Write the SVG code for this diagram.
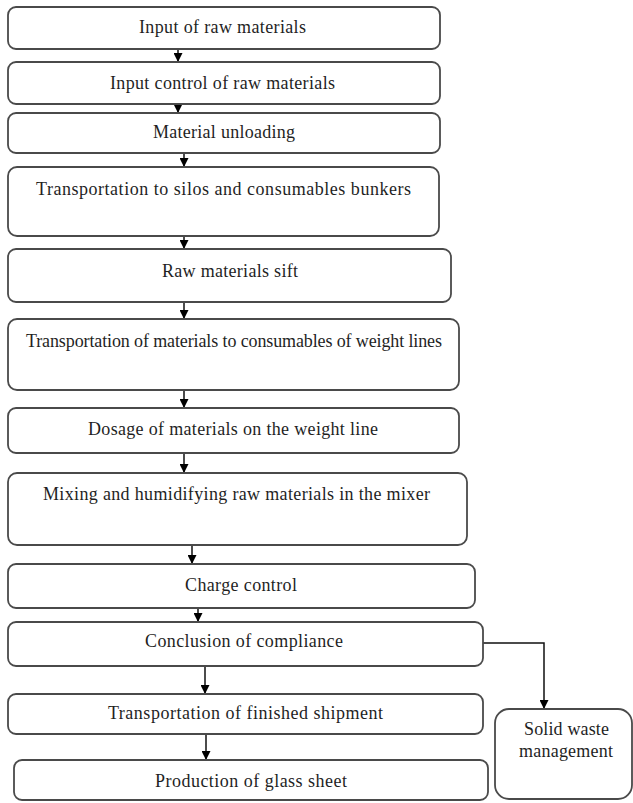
<svg xmlns="http://www.w3.org/2000/svg" width="633" height="803" viewBox="0 0 633 803">
<style>
  .box { fill: #ffffff; stroke: #4a4a4a; stroke-width: 1.8; }
  .lbl { font-family: "Liberation Serif", "Times New Roman", serif; font-size: 18px; fill: #1f1f1f; text-anchor: middle; }
  .conn { fill: none; stroke: #111; stroke-width: 1.5; }
</style>
<defs>
  <marker id="ah" viewBox="0 0 10 10" refX="10" refY="5" markerWidth="10" markerHeight="9" markerUnits="userSpaceOnUse" orient="auto">
    <path d="M0,0 L10,5 L0,10 z" fill="#000"/>
  </marker>
</defs>
<rect width="633" height="803" fill="#ffffff"/>

<g id="connectors">
  <line class="conn" x1="178" y1="44" x2="178" y2="62" marker-end="url(#ah)"/>
  <line class="conn" x1="178" y1="104" x2="178" y2="113" marker-end="url(#ah)"/>
  <line class="conn" x1="184" y1="153" x2="184" y2="167" marker-end="url(#ah)"/>
  <line class="conn" x1="184" y1="236" x2="184" y2="249" marker-end="url(#ah)"/>
  <line class="conn" x1="184" y1="302" x2="184" y2="319" marker-end="url(#ah)"/>
  <line class="conn" x1="184" y1="390" x2="184" y2="408" marker-end="url(#ah)"/>
  <line class="conn" x1="184" y1="453" x2="184" y2="473" marker-end="url(#ah)"/>
  <line class="conn" x1="192" y1="545" x2="192" y2="564" marker-end="url(#ah)"/>
  <line class="conn" x1="198" y1="600" x2="198" y2="622" marker-end="url(#ah)"/>
  <line class="conn" x1="205" y1="666" x2="205" y2="694" marker-end="url(#ah)"/>
  <line class="conn" x1="206" y1="734" x2="206" y2="760" marker-end="url(#ah)"/>
  <polyline class="conn" points="483,643 544,643 544,709" marker-end="url(#ah)"/>
</g>

<g id="n1"><rect class="box" x="8" y="7" width="432" height="42" rx="8"/><text class="lbl" x="222.5" y="33" textLength="167" lengthAdjust="spacing">Input of raw materials</text></g>
<g id="n2"><rect class="box" x="8" y="62" width="432" height="42" rx="8"/><text class="lbl" x="222.5" y="89" textLength="225" lengthAdjust="spacing">Input control of raw materials</text></g>
<g id="n3"><rect class="box" x="8" y="113" width="432" height="40" rx="8"/><text class="lbl" x="224" y="138" textLength="142" lengthAdjust="spacing">Material unloading</text></g>
<g id="n4"><rect class="box" x="8" y="167" width="431" height="69" rx="9"/><text class="lbl" x="223.5" y="195" textLength="375" lengthAdjust="spacing">Transportation to silos and consumables bunkers</text></g>
<g id="n5"><rect class="box" x="8" y="249" width="443" height="53" rx="8"/><text class="lbl" x="230" y="277" textLength="136" lengthAdjust="spacing">Raw materials sift</text></g>
<g id="n6"><rect class="box" x="8" y="319" width="451" height="71" rx="9"/><text class="lbl" x="234" y="347" textLength="416" lengthAdjust="spacing">Transportation of materials to consumables of weight lines</text></g>
<g id="n7"><rect class="box" x="8" y="408" width="451" height="45" rx="8"/><text class="lbl" x="233" y="435" textLength="290" lengthAdjust="spacing">Dosage of materials on the weight line</text></g>
<g id="n8"><rect class="box" x="8" y="473" width="459" height="72" rx="9"/><text class="lbl" x="236.5" y="500" textLength="387" lengthAdjust="spacing">Mixing and humidifying raw materials in the mixer</text></g>
<g id="n9"><rect class="box" x="8" y="564" width="467" height="44" rx="8"/><text class="lbl" x="241" y="591" textLength="112" lengthAdjust="spacing">Charge control</text></g>
<g id="n10"><rect class="box" x="8" y="622" width="475" height="44" rx="8"/><text class="lbl" x="244" y="647" textLength="198" lengthAdjust="spacing">Conclusion of compliance</text></g>
<g id="n11"><rect class="box" x="8" y="694" width="475" height="40" rx="8"/><text class="lbl" x="245.5" y="719" textLength="275" lengthAdjust="spacing">Transportation of finished shipment</text></g>
<g id="n12"><rect class="box" x="14" y="760" width="474" height="40" rx="8"/><text class="lbl" x="251" y="787" textLength="192" lengthAdjust="spacing">Production of glass sheet</text></g>
<g id="n13"><rect class="box" x="495" y="709" width="137" height="90" rx="14"/><text class="lbl" x="566.5" y="735" textLength="85" lengthAdjust="spacing">Solid waste</text><text class="lbl" x="566" y="757" textLength="94" lengthAdjust="spacing">management</text></g>
</svg>
